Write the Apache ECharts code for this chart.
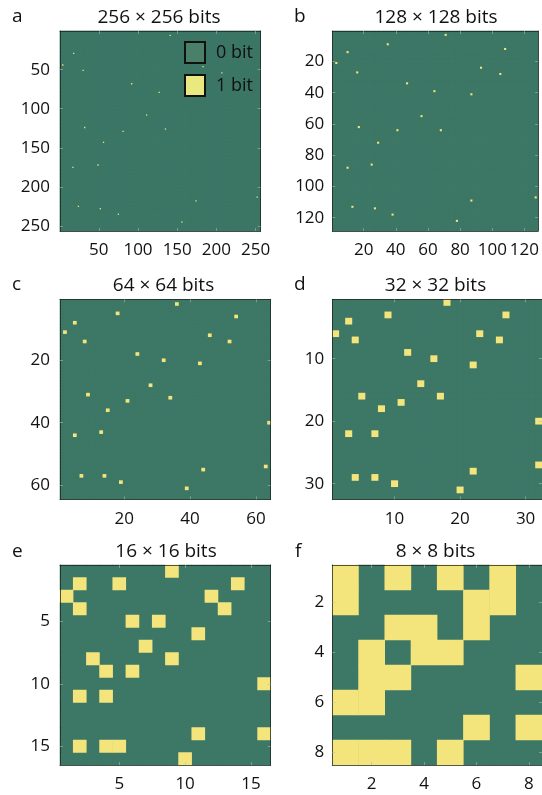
<!DOCTYPE html>
<html><head><meta charset="utf-8">
<script src="https://cdn.jsdelivr.net/npm/echarts@6/dist/echarts.min.js"></script>
<style>html,body{margin:0;padding:0;background:#fff}#c{width:542px;height:795px}</style>
</head><body><div id="c"></div>
<script>
// ---- data ----
const sizes = [256, 128, 64, 32, 16, 8];
const titles = ['256 × 256 bits', '128 × 128 bits', '64 × 64 bits', '32 × 32 bits', '16 × 16 bits', '8 × 8 bits'];
const letters = ['a', 'b', 'c', 'd', 'e', 'f'];
const tickSteps = [50, 20, 20, 10, 5, 2];
const legendNames = ['0 bit', '1 bit'];
// positions of the 1 bits: [column, row], 1-based, row 1 at the top
const ones256 = [[141,6],[18,29],[4,44],[183,46],[30,51],[207,54],[92,68],[127,79],[111,108],[32,124],[135,126],[81,129],[56,143],[49,172],[17,175],[252,213],[174,218],[24,225],[52,228],[75,235],[156,245]];
const ones128 = [[71,3],[35,9],[108,12],[10,14],[3,21],[93,24],[16,27],[105,28],[47,34],[64,39],[87,41],[56,55],[17,62],[41,64],[68,64],[29,72],[25,86],[10,88],[127,107],[87,109],[13,113],[27,114],[38,118],[78,122]];
const ones64 = [[36,2],[18,5],[54,6],[5,8],[2,11],[46,12],[8,14],[52,14],[24,18],[32,20],[43,21],[28,28],[9,31],[34,32],[21,33],[15,36],[64,40],[13,43],[5,44],[63,54],[44,55],[7,57],[14,57],[19,59],[39,61]];
const ones32 = [[18,1],[9,3],[27,3],[3,4],[1,6],[23,6],[4,7],[26,7],[12,9],[16,10],[22,11],[14,14],[5,16],[17,16],[11,17],[8,18],[32,20],[3,22],[7,22],[32,27],[22,28],[4,29],[7,29],[10,30],[20,31]];
const ones16 = [[9,1],[2,2],[5,2],[14,2],[1,3],[12,3],[2,4],[13,4],[6,5],[8,5],[11,6],[7,7],[3,8],[9,8],[4,9],[6,9],[16,10],[2,11],[4,11],[11,14],[16,14],[2,15],[4,15],[5,15],[10,16]];
const ones8 = [[1,1],[3,1],[5,1],[7,1],[1,2],[6,2],[7,2],[3,3],[4,3],[6,3],[2,4],[4,4],[5,4],[2,5],[3,5],[8,5],[1,6],[2,6],[6,7],[8,7],[1,8],[2,8],[3,8],[5,8]];
const onesList = [ones256, ones128, ones64, ones32, ones16, ones8];

// ---- style / layout ----
const GREEN = '#3d7766', YELLOW = '#f3e47c';
const LEG0 = '#4a8069', LEG1 = '#e9e980';
const FONT = 'Open Sans';
const TXT = '#111111';
const layout = [
  {left: 60, top: 31, width: 200.7, height: 200, lm: 10},
  {left: 332.3, top: 31, width: 210, height: 200, lm: 8},
  {left: 60, top: 299.3, width: 210.7, height: 200, lm: 10},
  {left: 332.3, top: 299.3, width: 210, height: 200, lm: 8},
  {left: 60, top: 565, width: 210.7, height: 200, lm: 10},
  {left: 332.3, top: 565, width: 210, height: 200, lm: 8}
];
const titlePos = [[159, 8], [436, 8], [163.5, 276], [435.5, 276], [166, 542], [435.5, 542]];
const letterPos = [[12, 7], [294, 7], [12, 275], [294, 275], [12, 542], [295, 542]];

const grids = [], xAxes = [], yAxes = [], series = [], title = [];
const axisLine = {show: true, onZero: false, lineStyle: {color: 'rgba(25,35,30,0.75)', width: 1}};
const tickStyle = {color: 'rgba(170,190,180,0.55)', width: 1};

sizes.forEach((n, i) => {
  const L = layout[i];
  grids.push({left: L.left, top: L.top, width: L.width, height: L.height, show: true,
    backgroundColor: GREEN, borderWidth: 0});
  const cats = Array.from({length: n}, (_, k) => String(k + 1));
  const step = tickSteps[i];
  const every = (idx, val) => (+val) % step === 0;
  const base = (pos, showLabel, isY) => ({
    type: 'category', gridIndex: i, data: cats, position: pos, z: 10,
    inverse: !!isY,
    axisLine: axisLine,
    axisTick: {show: true, inside: true, length: 3, alignWithLabel: true, interval: every, lineStyle: tickStyle},
    axisLabel: {show: showLabel, interval: every, margin: isY ? L.lm : 11, fontSize: 17, color: TXT, fontFamily: FONT},
    splitLine: {show: false}
  });
  xAxes.push(base('bottom', true, false), base('top', false, false));
  yAxes.push(base('left', true, true), base('right', false, true));

  const oneSet = new Set(onesList[i].map(p => (p[0] - 1) + ',' + (p[1] - 1)));
  const zeros = [], ones = [];
  for (let y = 0; y < n; y++) for (let x = 0; x < n; x++) {
    if (oneSet.has(x + ',' + y)) ones.push([x, y, 1]);
    else zeros.push([x, y, 0]);
  }
  series.push({type: 'heatmap', xAxisIndex: 2 * i, yAxisIndex: 2 * i, data: zeros.concat(ones),
    progressive: 0, silent: true, emphasis: {disabled: true}, animation: false});

  title.push({text: titles[i], left: titlePos[i][0], top: titlePos[i][1], textAlign: 'center', padding: 0,
    textStyle: {fontSize: 19, fontWeight: 'normal', color: TXT, fontFamily: FONT}});
  title.push({text: letters[i], left: letterPos[i][0], top: letterPos[i][1], padding: 0,
    textStyle: {fontSize: 19, fontWeight: 'normal', color: TXT, fontFamily: FONT}});
});

// legend drawn in panel a (top right)
const legendGraphic = [];
legendNames.forEach((name, k) => {
  legendGraphic.push({type: 'rect', z: 100, zlevel: 0, x: 185, y: 42 + k * 33,
    shape: {x: 0, y: 0, width: 20, height: 21},
    style: {fill: k === 0 ? LEG0 : LEG1, stroke: '#111', lineWidth: 2}});
  legendGraphic.push({type: 'text', z: 100, x: 216, y: 52.5 + k * 33,
    style: {text: name, fontSize: 18, fontFamily: FONT, fill: TXT, verticalAlign: 'middle'}});
});

const chart = echarts.init(document.getElementById('c'), null, {renderer: 'canvas'});
chart.setOption({
  animation: false,
  backgroundColor: '#ffffff',
  title: title,
  grid: grids,
  xAxis: xAxes,
  yAxis: yAxes,
  visualMap: {type: 'piecewise', show: false, dimension: 2, seriesIndex: [0, 1, 2, 3, 4, 5],
    pieces: [{value: 0, color: GREEN}, {value: 1, color: YELLOW}]},
  graphic: {elements: legendGraphic},
  series: series
});
</script></body></html>
